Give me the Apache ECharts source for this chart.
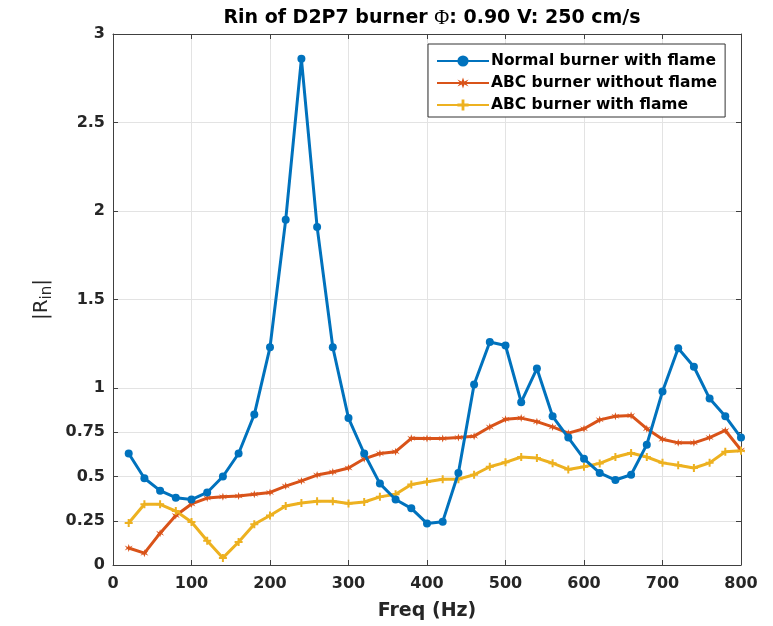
<!DOCTYPE html>
<html>
<head>
<meta charset="utf-8">
<script src="https://cdn.jsdelivr.net/npm/echarts@6/dist/echarts.min.js"></script>
<style>html,body{margin:0;padding:0;background:#fff;}#c{width:773px;height:626px;}</style>
</head>
<body>
<div id="c"></div>
<script>
const freq = [20,40,60,80,100,120,140,160,180,200,220,240,260,280,300,320,340,360,380,400,420,440,460,480,500,520,540,560,580,600,620,640,660,680,700,720,740,760,780,800];
const normalWithFlame = [0.63,0.49,0.42,0.38,0.37,0.41,0.50,0.63,0.85,1.23,1.95,2.86,1.91,1.23,0.83,0.63,0.46,0.37,0.32,0.235,0.245,0.52,1.02,1.26,1.24,0.92,1.11,0.84,0.72,0.60,0.52,0.48,0.51,0.68,0.98,1.225,1.12,0.94,0.84,0.72];
const abcWithoutFlame = [0.096,0.067,0.18,0.28,0.345,0.378,0.386,0.39,0.40,0.41,0.446,0.475,0.508,0.525,0.548,0.60,0.63,0.64,0.716,0.715,0.715,0.72,0.728,0.78,0.823,0.83,0.81,0.78,0.745,0.77,0.82,0.84,0.845,0.77,0.71,0.69,0.69,0.72,0.76,0.65];
const abcWithFlame = [0.237,0.343,0.343,0.305,0.243,0.137,0.04,0.13,0.23,0.28,0.333,0.35,0.36,0.36,0.348,0.356,0.385,0.40,0.455,0.47,0.485,0.485,0.51,0.555,0.58,0.61,0.604,0.575,0.54,0.555,0.574,0.61,0.633,0.61,0.577,0.563,0.548,0.577,0.64,0.645];
const yTicks = [0,0.25,0.5,0.75,1,1.5,2,2.5,3];
const seriesNames = ['Normal burner with flame','ABC burner without flame','ABC burner with flame'];

const colors = ['#0072BD','#D95319','#EDB120'];
const starPath = 'path://M4,0 L5,3 L8,1.5 L6,4 L8,6.5 L5,5 L4,8 L3,5 L0,6.5 L2,4 L0,1.5 L3,3 Z';
const plusPath = 'path://M3,0 L5,0 L5,3 L8,3 L8,5 L5,5 L5,8 L3,8 L3,5 L0,5 L0,3 L3,3 Z';
const pair = arr => freq.map((f,i)=>[f,arr[i]]);
const axisCol = '#404040';
const font = 'DejaVu Sans, sans-serif';

const chart = echarts.init(document.getElementById('c'));
chart.setOption({
  animation: false,
  backgroundColor: '#fff',
  title: {
    text: 'Rin of D2P7 burner {phi|Φ}: 0.90 V: 250 cm/s',
    left: 427, top: 3, textAlign: 'center',
    textStyle: {
      fontFamily: font, fontWeight: 'bold', fontSize: 19, color: '#000',
      rich: { phi: { fontFamily: 'Liberation Serif, Times New Roman, serif', fontSize: 20.5, fontWeight: 'normal', color:'#000' } }
    }
  },
  legend: {
    orient: 'vertical', left: 428, top: 44,
    data: seriesNames,
    itemWidth: 52, itemHeight: 14, itemGap: 6,
    padding: [9, 8, 4, 8],
    borderColor: '#333', borderWidth: 1, backgroundColor: '#fff',
    textStyle: { fontFamily: font, fontWeight: 'bold', fontSize: 15.5, color: '#000', padding: [0,0,0,-3] }
  },
  grid: { left: 113, right: 32, top: 34, bottom: 61, containLabel: false },
  xAxis: [{
    type: 'value', min: 0, max: 800, interval: 100,
    name: 'Freq (Hz)', nameLocation: 'middle', nameGap: 37,
    nameTextStyle: { fontFamily: font, fontWeight: 'bold', fontSize: 19, color: '#262626' },
    axisLine: { show: true, onZero: false, lineStyle: { color: axisCol, width: 1 } },
    axisTick: { show: true, inside: true, length: 5, lineStyle: { color: axisCol } },
    axisLabel: { fontFamily: font, fontWeight: 'bold', fontSize: 16, color: '#262626', margin: 11 },
    splitLine: { show: true, lineStyle: { color: '#e3e3e3', width: 1 } }
  }, {
    type: 'value', min: 0, max: 800, interval: 100, position: 'top',
    axisLine: { show: true, onZero: false, lineStyle: { color: axisCol, width: 1 } },
    axisTick: { show: true, inside: true, length: 5, lineStyle: { color: axisCol } },
    axisLabel: { show: false }, splitLine: { show: false }
  }],
  yAxis: [{
    type: 'value', min: 0, max: 3,
    name: '|R{sub|in}|', nameLocation: 'middle', nameGap: 58, nameRotate: 90,
    nameTextStyle: { fontFamily: font, fontSize: 20, color: '#262626',
      rich: { sub: { fontFamily: font, fontSize: 15, color: '#262626', verticalAlign: 'bottom', padding: [10,0,0,0] } } },
    axisLine: { show: true, onZero: false, lineStyle: { color: axisCol, width: 1 } },
    axisTick: { show: true, inside: true, length: 5, customValues: yTicks, lineStyle: { color: axisCol } },
    axisLabel: { customValues: yTicks, fontFamily: font, fontWeight: 'bold', fontSize: 16, color: '#262626', margin: 8 },
    splitLine: { show: true, lineStyle: { color: '#e3e3e3', width: 1 } }
  }, {
    type: 'value', min: 0, max: 3, position: 'right',
    axisLine: { show: true, onZero: false, lineStyle: { color: axisCol, width: 1 } },
    axisTick: { show: true, inside: true, length: 5, customValues: yTicks, lineStyle: { color: axisCol } },
    axisLabel: { show: false }, splitLine: { show: false }
  }],
  series: [{
    name: seriesNames[0], type: 'line', data: pair(normalWithFlame),
    symbol: 'circle', symbolSize: 8, showAllSymbol: true,
    lineStyle: { color: colors[0], width: 3 }, itemStyle: { color: colors[0] }, z: 3
  }, {
    name: seriesNames[1], type: 'line', data: pair(abcWithoutFlame),
    symbol: starPath, symbolSize: 8, showAllSymbol: true,
    lineStyle: { color: colors[1], width: 3 }, itemStyle: { color: colors[1] }, z: 2
  }, {
    name: seriesNames[2], type: 'line', data: pair(abcWithFlame),
    symbol: plusPath, symbolSize: 8, showAllSymbol: true,
    lineStyle: { color: colors[2], width: 3 }, itemStyle: { color: colors[2] }, z: 2
  }]
});
</script>
</body>
</html>
